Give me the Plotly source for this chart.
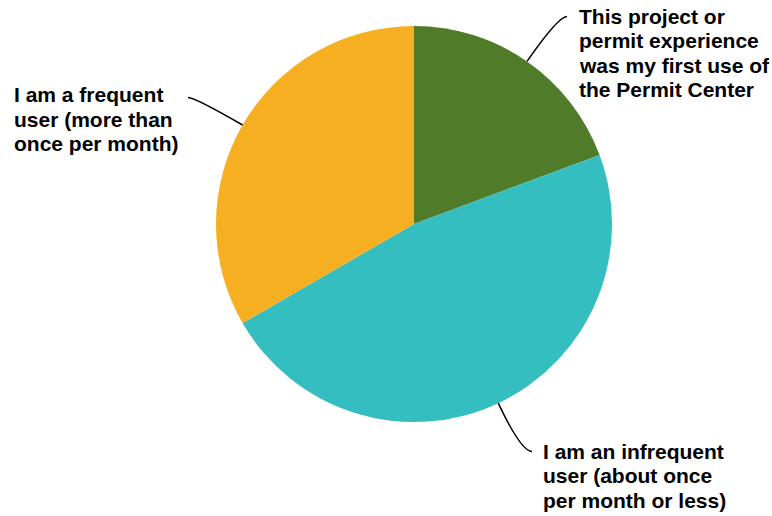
import math
import plotly.graph_objects as go

W, H = 772, 516

# Survey responses: how often respondents use the Permit Center
categories = [
    "This project or permit experience was my first use of the Permit Center",
    "I am an infrequent user (about once per month or less)",
    "I am a frequent user (more than once per month)",
]
responses = [29, 71, 50]
colors = ["#507B29", "#34BEC0", "#F6AF20"]

# Wrapped label lines for each slice
label_lines = [
    ["This project or", "permit experience", "was my first use of", "the Permit Center"],
    ["I am an infrequent", "user (about once", "per month or less)"],
    ["I am a frequent", "user (more than", "once per month)"],
]

# Layout of the pie (pixels) and label blocks
CX, CY, R = 414, 224, 198
label_left = [579, 543, 14]
label_first_mid = [16, 451, 94.5]
LINE_STEP = 24.6
leader_end = [(567, 16.5), (532, 451.5), (188, 97.5)]
FONT = "Liberation Sans, Arial, sans-serif"


def px(x):
    return x / W


def py(y):
    return 1 - y / H


fig = go.Figure(
    go.Pie(
        labels=categories,
        values=responses,
        marker=dict(colors=colors, line=dict(width=0)),
        sort=False,
        direction="clockwise",
        rotation=0,
        textinfo="none",
        hoverinfo="label+percent",
        domain=dict(x=[px(CX - R), px(CX + R)], y=[py(CY + R), py(CY - R)]),
        showlegend=False,
    )
)

# Leader lines from the middle of each slice's arc to its label
total = sum(responses)
cum = 0.0
shapes = []
annotations = []
for i, v in enumerate(responses):
    mid = (cum + v / 2) / total * 2 * math.pi
    cum += v
    sx = CX + R * math.sin(mid)
    sy = CY - R * math.cos(mid)
    ex, ey = leader_end[i]
    # control point: continue radially until reaching the label's line height
    dx, dy = math.sin(mid), -math.cos(mid)
    t = (ey - sy) / dy
    cx_, cy_ = sx + dx * t, ey
    path = f"M {px(sx)},{py(sy)} Q {px(cx_)},{py(cy_)} {px(ex)},{py(ey)}"
    shapes.append(dict(type="path", xref="paper", yref="paper", path=path,
                       line=dict(color="black", width=1.5)))
    for j, line in enumerate(label_lines[i]):
        annotations.append(dict(
            x=px(label_left[i] - 2), y=py(label_first_mid[i] + j * LINE_STEP),
            xref="paper", yref="paper", xanchor="left", yanchor="middle",
            text=f"<b>{line}</b>", showarrow=False,
            font=dict(family=FONT, size=21, color="black"),
        ))

fig.update_layout(
    width=W, height=H,
    margin=dict(l=0, r=0, t=0, b=0),
    paper_bgcolor="white",
    plot_bgcolor="white",
    shapes=shapes,
    annotations=annotations,
)

fig.write_html("out.html")
